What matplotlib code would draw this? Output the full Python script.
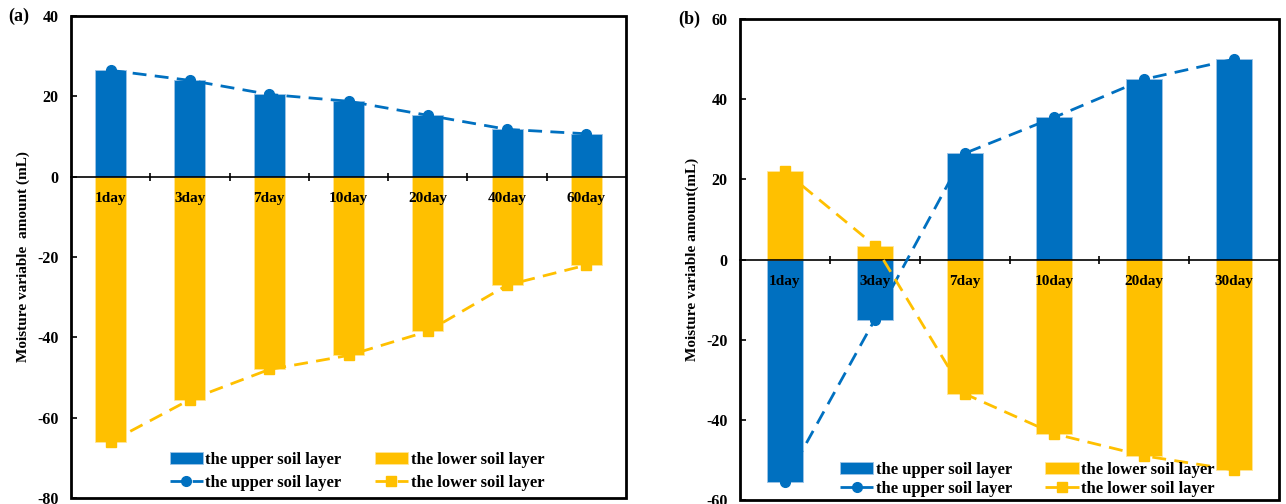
import matplotlib.pyplot as plt
import numpy as np
from matplotlib.patches import Rectangle

plt.rcParams['font.family'] = ['Liberation Serif', 'DejaVu Serif']
plt.rcParams['font.weight'] = 'bold'
plt.rcParams['axes.unicode_minus'] = False

# panel (a)
days_a = ['1day', '3day', '7day', '10day', '20day', '40day', '60day']
upper_a = [26.5, 24.0, 20.5, 18.8, 15.3, 11.8, 10.7]
lower_a = [-66.0, -55.5, -48.0, -44.5, -38.5, -27.0, -22.0]

# panel (b)
days_b = ['1day', '3day', '7day', '10day', '20day', '30day']
upper_b = [-55.5, -15.0, 26.5, 35.5, 45.0, 50.0]
lower_b = [22.0, 3.5, -33.5, -43.5, -49.0, -52.5]

col_up = '#0070C0'
col_low = '#FFC000'
lab_up = 'the upper soil layer'
lab_low = 'the lower soil layer'

fig = plt.figure(figsize=(12.86, 5.04), dpi=100)
ax1 = fig.add_axes([0.0552, 0.012, 0.4316, 0.956])
ax2 = fig.add_axes([0.5754, 0.008, 0.4192, 0.954])


def panel(ax, days, upper, lower, ylim, ystep, ylab, tag, leg_x, leg_y, leg_sp, bw):
    x = np.arange(len(days))
    b1 = ax.bar(x, upper, bw, color=col_up, edgecolor='#9dc3e6', linewidth=0.6, label=lab_up, zorder=2)
    b2 = ax.bar(x, lower, bw, color=col_low, edgecolor='#ffe699', linewidth=0.6, label=lab_low, zorder=2)
    l1, = ax.plot(x, upper, '--', color=col_up, lw=2, marker='o', ms=7,
                  dashes=(5, 3), label=lab_up, zorder=3)
    l2, = ax.plot(x, lower, '--', color=col_low, lw=2, marker='s', ms=6.5,
                  dashes=(5, 3), label=lab_low, zorder=3)

    ax.set_xlim(-0.5, len(days) - 0.5)
    ax.set_ylim(*ylim)
    ax.set_yticks(np.arange(ylim[0], ylim[1] + 1, ystep))
    ax.tick_params(axis='y', direction='in', length=4, width=1.2, labelsize=11.5, pad=9)
    ax.set_axisbelow(False)

    # category axis sits on the zero line, the box is drawn separately
    ax.spines['bottom'].set_position(('data', 0))
    ax.spines['bottom'].set_linewidth(1.2)
    for s in ['top', 'right', 'left']:
        ax.spines[s].set_visible(False)
    ax.add_patch(Rectangle((0, 0), 1, 1, transform=ax.transAxes, fill=False,
                           lw=2, ec='black', zorder=5, clip_on=False))
    ax.set_xticks(np.arange(0.5, len(days) - 1, 1.0))
    ax.set_xticklabels([])
    ax.set_xticks(x, minor=True)
    ax.set_xticklabels(days, minor=True)
    ax.tick_params(axis='x', which='major', direction='inout', length=6, width=1.2)
    ax.tick_params(axis='x', which='minor', length=0, pad=11, labelsize=11)

    ax.set_ylabel(ylab, fontsize=11, fontweight='bold', labelpad=5)
    ax.text(-0.095, 1.0, tag, transform=ax.transAxes, fontsize=13,
            fontweight='bold', ha='center', va='center')

    ax.legend([b1, l1, b2, l2], [lab_up, lab_up, lab_low, lab_low], ncol=2,
              loc='lower center', bbox_to_anchor=(leg_x, leg_y), frameon=False,
              prop={'size': 12, 'weight': 'bold'}, handlelength=2.0,
              handletextpad=0.15, columnspacing=2.0, labelspacing=leg_sp,
              borderaxespad=0.0)


panel(ax1, days_a, upper_a, lower_a, (-80, 40), 20,
      'Moisture variable  amount (mL)', '(a)', 0.515, 0.0, 0.45, 0.39)
panel(ax2, days_b, upper_b, lower_b, (-60, 60), 20,
      'Moisture variable amount(mL)', '(b)', 0.533, -0.008, 0.2, 0.4)

fig.savefig('out.png', dpi=100)
